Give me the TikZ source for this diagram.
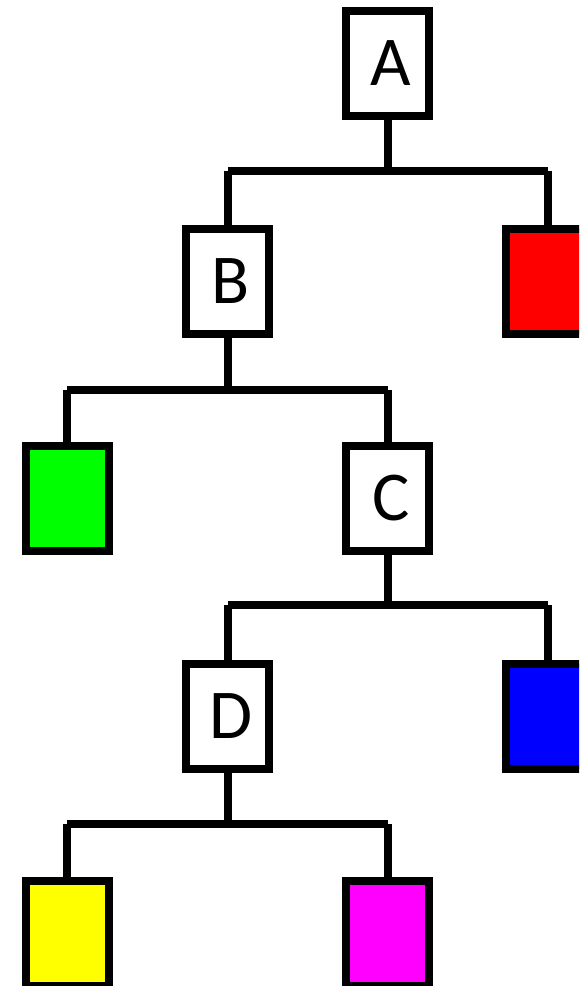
\documentclass[tikz,border=0pt]{standalone}
\usepackage{fontspec}
\setmainfont{Carlito}
\begin{document}
\begin{tikzpicture}[x=1pt,y=-1pt,
  treebox/.style={draw=black,line width=8pt,minimum width=83pt,minimum height=105pt,inner sep=0pt,fill=white},
  lbl/.style={font=\fontsize{70}{70}\selectfont,xshift=3.5pt},
  conn/.style={draw=black,line width=8pt,line cap=butt}]
\useasboundingbox (0,0) rectangle (579,986);
\clip (0,0) rectangle (579,986);
% boxes
\node[treebox] (A) at (387.5,63.5) {};
\node[treebox] (B) at (227.5,281) {};
\node[treebox,fill={rgb,255:red,255;green,0;blue,0}] (R) at (547.5,281) {};
\node[treebox,fill={rgb,255:red,0;green,255;blue,0}] (G) at (67,498.5) {};
\node[treebox] (C) at (387.5,498.5) {};
\node[treebox] (D) at (227.5,716) {};
\node[treebox,fill={rgb,255:red,0;green,0;blue,255}] (Bl) at (547.5,716) {};
\node[treebox,fill={rgb,255:red,255;green,255;blue,0}] (Y) at (67,933.5) {};
\node[treebox,fill={rgb,255:red,255;green,0;blue,255}] (M) at (387.5,933.5) {};
% labels
\node[lbl] (tA) at (A) {A};
\node[lbl] (tB) at (B) {B};
\node[lbl] (tC) at (C) {C};
\node[lbl] (tD) at (D) {D};
% junction coordinates
\coordinate (jA) at (387.5,171);
\coordinate (jB) at (227.5,390);
\coordinate (jC) at (387.5,605);
\coordinate (jD) at (227.5,824);
% connectors
\draw[conn] (A.south) -- (jA);
\draw[conn] (B |- jA) -- (R |- jA);
\draw[conn] (B |- jA) -- (B.north);
\draw[conn] (R |- jA) -- (R.north);
\draw[conn] (B.south) -- (jB);
\draw[conn] (G |- jB) -- (C |- jB);
\draw[conn] (G |- jB) -- (G.north);
\draw[conn] (C |- jB) -- (C.north);
\draw[conn] (C.south) -- (jC);
\draw[conn] (D |- jC) -- (Bl |- jC);
\draw[conn] (D |- jC) -- (D.north);
\draw[conn] (Bl |- jC) -- (Bl.north);
\draw[conn] (D.south) -- (jD);
\draw[conn] (Y |- jD) -- (M |- jD);
\draw[conn] (Y |- jD) -- (Y.north);
\draw[conn] (M |- jD) -- (M.north);
\end{tikzpicture}
\end{document}
